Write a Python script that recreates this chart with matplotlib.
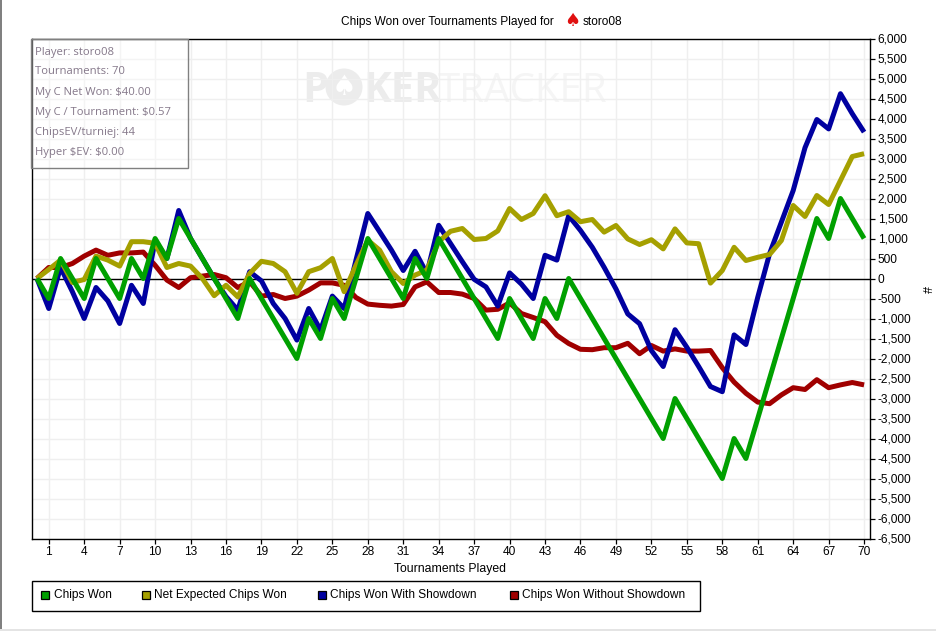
import numpy as np
import matplotlib
matplotlib.use('Agg')
import matplotlib.pyplot as plt
from matplotlib.patches import Rectangle, Circle
from matplotlib.transforms import Affine2D

# values, tournament 0..70
chips_won = [0, -500, 500, 0, -500, 500, 0, -500, 500, 0,
             1000, 500, 1500, 1000, 500, 0, -500, -1000, 0, -500,
             -1000, -1500, -2000, -1000, -1500, -500, -1000, 0, 1000, 500,
             0, -500, 500, 0, 1000, 500, 0, -500, -1000, -1500,
             -500, -1000, -1500, -500, -1000, 0, -500, -1000, -1500, -2000,
             -2500, -3000, -3500, -4000, -3000, -3500, -4000, -4500, -5000, -4000,
             -4500, -3500, -2500, -1500, -500, 500, 1500, 1000, 2000, 1500,
             1000]
net_expected = [0, 225, 460, -100, -25, 560, 460, 310, 920, 920,
                880, 275, 375, 310, 0, -430, -170, -460, 125, 430,
                375, 170, -370, 170, 270, 500, -330, 330, 960, 710,
                170, -125, 85, 210, 920, 1180, 1250, 975, 1000, 1190,
                1750, 1475, 1625, 2070, 1570, 1670, 1420, 1475, 1160, 1325,
                990, 850, 970, 740, 1240, 890, 870, -115, 200, 780,
                450, 530, 600, 950, 1825, 1550, 2075, 1850, 2450, 3050,
                3120]
with_showdown = [0, -750, 275, -330, -1000, -225, -560, -1125, -170, -625,
                 950, 500, 1700, 1000, 500, 0, -450, -790, 170, -60,
                 -625, -1000, -1540, -750, -1290, -440, -750, 460, 1625, 1170,
                 710, 200, 680, 125, 1330, 875, 420, -20, -210, -690,
                 140, -140, -500, 580, 460, 1570, 1200, 780, 280, -260,
                 -885, -1130, -1800, -2200, -1280, -1720, -2200, -2700, -2830, -1410,
                 -1650, -470, 620, 1410, 2200, 3270, 3975, 3740, 4620, 4120,
                 3660]
without_showdown = [0, 275, 275, 375, 560, 710, 580, 640, 640, 660,
                    330, -40, -225, 20, 60, 100, 20, -225, -80, -440,
                    -400, -500, -440, -290, -110, -110, -170, -475, -640, -670,
                    -690, -650, -210, -85, -350, -350, -390, -500, -790, -770,
                    -610, -875, -975, -1080, -1420, -1625, -1770, -1780, -1730, -1730,
                    -1620, -1880, -1675, -1815, -1760, -1815, -1815, -1800, -2230, -2590,
                    -2870, -3090, -3130, -2910, -2730, -2775, -2530, -2730, -2660, -2600,
                    -2660]

x_ticks = list(range(1, 71, 3))
y_ticks = list(range(-6500, 6001, 500))
series_names = ['Chips Won', 'Net Expected Chips Won',
                'Chips Won With Showdown', 'Chips Won Without Showdown']
info_lines = ['Player: storo08', 'Tournaments: 70', 'My C Net Won: $40.00',
              'My C / Tournament: $0.57', 'ChipsEV/turniej: 44', 'Hyper $EV: $0.00']

GREEN = '#00a000'
OLIVE = '#a5a000'
BLUE = '#0000a0'
RED = '#a00000'
UI_FONT = 'Liberation Sans'

W, H = 936, 631
fig = plt.figure(figsize=(W / 100, H / 100), dpi=100)
ax = fig.add_axes([31.5 / W, 1 - 538.5 / H, (870 - 31.5) / W, (538.5 - 38.5) / H])

# everything outside the data area is placed in pixels, y going down
px = Affine2D().scale(1, -1).translate(0, H)

xs = np.arange(len(chips_won))
for vals, col, z in [(without_showdown, RED, 3), (with_showdown, BLUE, 4),
                     (net_expected, OLIVE, 5), (chips_won, GREEN, 6)]:
    ax.plot(xs, vals, color=col, lw=3.6, zorder=z, solid_joinstyle='round',
            solid_capstyle='butt')

ax.axhline(0, color='black', lw=1, zorder=2)
ax.set_xlim(-0.46, 70.5)
ax.set_ylim(-6500, 6000)
ax.set_xticks(x_ticks)
ax.set_yticks(y_ticks)
ax.set_yticklabels([f'{v:,}' for v in y_ticks])
ax.yaxis.tick_right()
ax.grid(True, color='#efefef', lw=1)
ax.set_axisbelow(True)
ax.tick_params(axis='x', length=3.5, width=0.9, pad=2, labelsize=8.6, labelfontfamily=UI_FONT)
ax.tick_params(axis='y', length=3.5, width=0.9, pad=2, labelsize=8.6, labelfontfamily=UI_FONT)
for s in ax.spines.values():
    s.set_linewidth(1)
ax.patch.set_alpha(0)

# watermark, the O is a poker chip in the original
fig.text(302, 102, 'P', transform=px, family='Open Sans', weight='bold',
         fontsize=30, color='#ececec', zorder=-1)
fig.add_artist(Circle((344, 87), 18.5, transform=px, fc='#ececec', ec='none', zorder=-0.9))
fig.text(344, 87, '\u2660', transform=px, family='DejaVu Sans', fontsize=20, color='white',
         ha='center', va='center', zorder=-0.8)
fig.text(363.5, 102, 'KER', transform=px, family='Open Sans', weight='bold',
         fontsize=30, color='#ececec', zorder=-1)
fig.text(438, 102, 'TRACKER', transform=px, family='Open Sans', fontsize=29,
         color='#f5f5f5', zorder=-1)

# title, spade sits in the middle
fig.text(341, 25, 'Chips Won over Tournaments Played for', transform=px,
         family=UI_FONT, fontsize=8.6, va='baseline')
fig.text(572, 26, '\u2660', transform=px, family='DejaVu Sans', fontsize=13,
         color='#e01010', ha='center', va='baseline')
fig.text(583, 25, 'storo08', transform=px, family=UI_FONT, fontsize=8.6, va='baseline')

fig.text(450.5, 569, 'Tournaments Played', transform=px, family=UI_FONT, fontsize=8.8,
         ha='center', va='center')
fig.text(925, 289, '#', transform=px, family=UI_FONT, fontsize=9, rotation=-90,
         ha='center', va='center')

# info box over the top left corner
fig.add_artist(Rectangle((31, 39), 156.5, 129, transform=px, fc=(1, 1, 1, 0.35),
                         ec='#808080', lw=1, zorder=7))
for i, line in enumerate(info_lines):
    fig.text(35, 52 + 20 * i, line, transform=px, family='Open Sans', fontsize=8.1,
             color='#85788a', va='center', zorder=8, parse_math=False)

# legend
fig.add_artist(Rectangle((31.5, 580.5), 668, 30, transform=px, fc='white', ec='black', lw=1))
swatch_x = [40.5, 141.5, 317.5, 509.5]
for name, sx, col in zip(series_names, swatch_x, [GREEN, OLIVE, BLUE, RED]):
    fig.add_artist(Rectangle((sx, 591), 8, 8, transform=px, fc=col, ec='black', lw=0.9))
    fig.text(sx + 13, 595, name, transform=px, family=UI_FONT, fontsize=8.6, va='center')

# window edge
fig.add_artist(Rectangle((0, 0), 1.5, H, transform=px, fc='#808080', ec='none'))
fig.add_artist(Rectangle((0, H - 2), W, 2, transform=px, fc='#e4e4e4', ec='none'))

fig.savefig('out.png', dpi=100)
